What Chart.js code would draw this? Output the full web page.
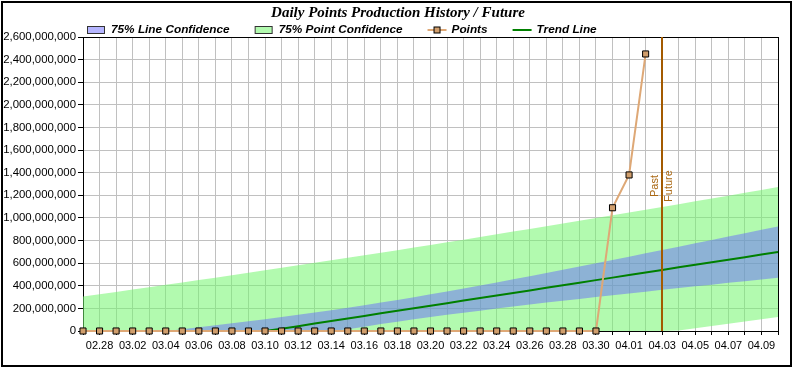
<!DOCTYPE html>
<html><head><meta charset="utf-8">
<script src="https://cdn.jsdelivr.net/npm/chart.js@4.4.1/dist/chart.umd.min.js"></script>
<style>html,body{margin:0;padding:0;background:#fff;} canvas{display:block;}</style>
</head><body>
<canvas id="c" width="796" height="370"></canvas>
<script>
// ---- data (values in millions of points) ----
const categories = ['02.27','02.28','03.01','03.02','03.03','03.04','03.05','03.06','03.07','03.08','03.09','03.10','03.11','03.12','03.13','03.14','03.15','03.16','03.17','03.18','03.19','03.20','03.21','03.22','03.23','03.24','03.25','03.26','03.27','03.28','03.29','03.30','03.31','04.01','04.02','04.03','04.04','04.05','04.06','04.07','04.08','04.09','04.10'];
const pointsValues = [0,0,0,0,0,0,0,0,0,0, 0,0,0,0,0,0,0,0,0,0, 0,0,0,0,0,0,0,0,0,0, 0,0, 1090,1380,2450, null,null,null,null,null,null,null,null];
const trendValues = [null,null,null,null,null,null,null,null,null,null,null, 0,20,43,66,88,111,133,156,179,201,224,246,269,292,314,337,359,382,405,427,450,472,495,518,540,563,585,608,631,653,676,698];
const lineConfUpper = [0,0,0,0,0,0, 16,33,50,68,86,105,124,143,164,184,206,228,251,275,299,324,350,376,403,430,457,485,513,542,570,599,628,657,687,716,746,776,805,835,865,895,925];
const lineConfLower = [0,0,0,0,0,0,0,0,0,0,0,0,0,0,0,0, 16,38,61,82,103,123,143,162,180,199,216,234,251,267,284,300,316,332,348,364,380,395,410,426,441,456,471];
const pointConfUpper = [304,324,345,366,387,408,429,450,472,493,515,537,559,581,603,625,647,670,693,715,738,761,785,808,831,855,879,902,926,950,974,999,1023,1048,1072,1097,1122,1147,1172,1197,1222,1248,1273];
const pointConfLower = [0,0,0,0,0,0,0,0,0,0,0,0,0,0,0,0,0,0,0,0,0,0,0,0,0,0,0,0,0,0,0,0,0,0,0,0, 4,24,44,64,84,104,123];
const yMax = 2600000000;
const yStep = 200000000;
const dividerLabel = '04.03';
const dividerTexts = ['Past', 'Future'];
const chartTitle = 'Daily Points Production History / Future';
const seriesNames = ['75% Line Confidence', '75% Point Confidence', 'Points', 'Trend Line'];
const UNIT = 1e6;
const toUnits = a => a.map(v => v === null ? null : v * UNIT);

// ---- styles ----
const blueFill = 'rgba(100,100,255,0.48)';
const greenFill = 'rgba(116,246,111,0.556)';
const pointsLine = 'rgb(222,168,118)';
const pointsMarker = 'rgb(208,158,108)';
const trendColor = 'rgb(0,128,0)';
const dividerColor = 'rgb(163,90,0)';

const decor = {
  id: 'decor',
  beforeDatasetsDraw(chart) {
    const {ctx, chartArea: a} = chart;
    ctx.save();
    ctx.strokeStyle = '#000';
    ctx.lineWidth = 1;
    ctx.strokeRect(Math.round(a.left) + 0.5, Math.round(a.top) + 0.5, Math.round(a.right - a.left), Math.round(a.bottom - a.top));
    ctx.restore();
  },
  afterDatasetsDraw(chart) {
    const {ctx, chartArea: a, scales: {x}} = chart;
    const px = Math.round(x.getPixelForValue(categories.indexOf(dividerLabel)));
    ctx.save();
    ctx.strokeStyle = dividerColor;
    ctx.lineWidth = 2;
    ctx.beginPath();
    ctx.moveTo(px, a.top);
    ctx.lineTo(px, a.bottom);
    ctx.stroke();
    const cy = (a.top + a.bottom) / 2 + 2;
    ctx.fillStyle = 'rgb(170,104,20)';
    ctx.font = '11px "Liberation Sans", Arial, sans-serif';
    ctx.textAlign = 'center';
    ctx.textBaseline = 'middle';
    [[dividerTexts[0], -7], [dividerTexts[1], 7]].forEach(([t, dx]) => {
      ctx.save();
      ctx.translate(px + dx, cy);
      ctx.rotate(-Math.PI / 2);
      ctx.fillText(t, 0, 0);
      ctx.restore();
    });
    ctx.restore();
  },
  afterDraw(chart) {
    const {ctx} = chart;
    ctx.save();
    // outer frame
    ctx.strokeStyle = '#000';
    ctx.lineWidth = 2;
    ctx.strokeRect(2, 2, 789, 364);
    // title
    ctx.fillStyle = '#000';
    ctx.font = 'italic bold 15px "Liberation Serif", "Times New Roman", serif';
    ctx.textAlign = 'center';
    ctx.textBaseline = 'alphabetic';
    ctx.fillText(chartTitle, 398, 17);
    // legend
    ctx.font = 'italic bold 11.8px "Liberation Sans", Arial, sans-serif';
    ctx.textAlign = 'left';
    ctx.textBaseline = 'middle';
    let lx = 87;
    const ly = 30;
    const kinds = [
      {k: 'box', c: blueFill},
      {k: 'box', c: greenFill},
      {k: 'marker'},
      {k: 'line'}
    ];
    seriesNames.forEach((name, i) => {
      const it = kinds[i];
      if (it.k === 'box') {
        ctx.fillStyle = it.c;
        ctx.fillRect(lx + 0.5, ly - 3.5, 17, 7);
        ctx.strokeStyle = '#333';
        ctx.lineWidth = 1;
        ctx.strokeRect(lx + 0.5, ly - 3.5, 17, 7);
      } else if (it.k === 'marker') {
        ctx.strokeStyle = pointsLine;
        ctx.lineWidth = 2;
        ctx.beginPath(); ctx.moveTo(lx, ly); ctx.lineTo(lx + 19, ly); ctx.stroke();
        ctx.fillStyle = pointsMarker;
        ctx.fillRect(lx + 6.5, ly - 3, 6, 6);
        ctx.strokeStyle = '#000';
        ctx.lineWidth = 1;
        ctx.strokeRect(lx + 6.5, ly - 3, 6, 6);
      } else {
        ctx.strokeStyle = trendColor;
        ctx.lineWidth = 2;
        ctx.beginPath(); ctx.moveTo(lx, ly); ctx.lineTo(lx + 19, ly); ctx.stroke();
      }
      ctx.fillStyle = '#000';
      const tx = lx + 24;
      ctx.fillText(name, tx, ly);
      lx = tx + ctx.measureText(name).width + 25;
    });
    ctx.restore();
  }
};

new Chart(document.getElementById('c'), {
  type: 'line',
  data: {
    labels: categories,
    datasets: [
      {label: seriesNames[0], data: toUnits(lineConfUpper), fill: 1, backgroundColor: blueFill, borderWidth: 0, pointRadius: 0, order: 2},
      {label: 'lineLower', data: toUnits(lineConfLower), fill: false, borderWidth: 0, pointRadius: 0, order: 3},
      {label: seriesNames[1], data: toUnits(pointConfUpper), fill: 3, backgroundColor: greenFill, borderWidth: 0, pointRadius: 0, order: 4},
      {label: 'pointLower', data: toUnits(pointConfLower), fill: false, borderWidth: 0, pointRadius: 0, order: 5},
      {label: seriesNames[2], data: toUnits(pointsValues), borderColor: pointsLine, borderWidth: 2, pointStyle: 'rect', pointRadius: 4.3, pointBackgroundColor: pointsMarker, pointBorderColor: '#000', pointBorderWidth: 1, fill: false, clip: false, order: 0},
      {label: seriesNames[3], data: toUnits(trendValues), borderColor: trendColor, borderWidth: 2, pointRadius: 0, fill: false, order: 1}
    ]
  },
  options: {
    responsive: false,
    animation: false,
    layout: {padding: {left: 3, right: 18, top: 37, bottom: 9}},
    plugins: {legend: {display: false}, title: {display: false}, tooltip: {enabled: false}},
    elements: {line: {tension: 0}},
    scales: {
      x: {
        afterFit(s) { s.height = 30; },
        grid: {color: 'rgb(192,192,192)', lineWidth: 1, tickLength: 4, tickColor: '#000'},
        border: {color: '#000', width: 1},
        ticks: {
          autoSkip: false, maxRotation: 0, minRotation: 0, padding: 4,
          color: '#000', font: {family: '"Liberation Sans", Arial, sans-serif', size: 11},
          callback: (v, i) => (i % 2 === 1 ? categories[i] : '')
        }
      },
      y: {
        min: 0, max: yMax,
        afterFit(s) { s.width = 80; },
        grid: {color: 'rgb(192,192,192)', lineWidth: 1, tickLength: 5, tickColor: '#000'},
        border: {color: '#000', width: 1},
        ticks: {
          stepSize: yStep, padding: 2, color: '#000',
          font: {family: '"Liberation Sans", Arial, sans-serif', size: 11.4},
          callback: v => Number(v).toLocaleString('en-US')
        }
      }
    }
  },
  plugins: [decor]
});
</script>
</body></html>
